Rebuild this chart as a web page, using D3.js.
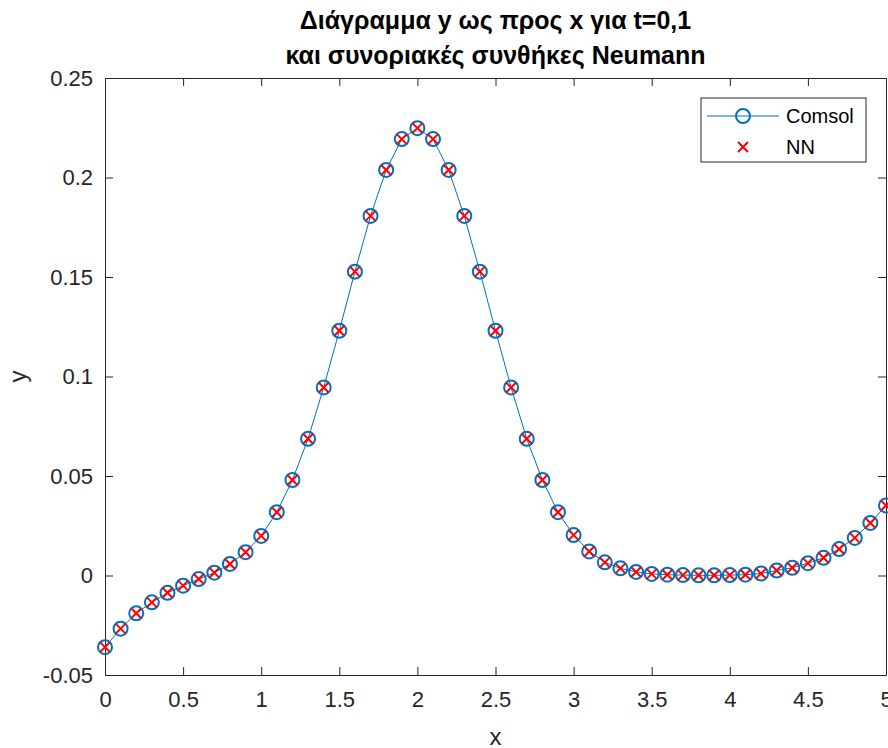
<!DOCTYPE html>
<html>
<head>
<meta charset="utf-8">
<script src="https://cdn.jsdelivr.net/npm/d3@7"></script>
<style>
  body { margin: 0; background: #fff; }
  svg { display: block; font-family: "Liberation Sans", Arial, sans-serif; }
</style>
</head>
<body>
<svg id="chart"></svg>
<script>
// x positions, 0 to 5 step 0.1
var xValues = [0, 0.1, 0.2, 0.3, 0.4, 0.5, 0.6, 0.7, 0.8, 0.9,
  1, 1.1, 1.2, 1.3, 1.4, 1.5, 1.6, 1.7, 1.8, 1.9,
  2, 2.1, 2.2, 2.3, 2.4, 2.5, 2.6, 2.7, 2.8, 2.9,
  3, 3.1, 3.2, 3.3, 3.4, 3.5, 3.6, 3.7, 3.8, 3.9,
  4, 4.1, 4.2, 4.3, 4.4, 4.5, 4.6, 4.7, 4.8, 4.9, 5];

// Comsol solution
var comsolY = [-0.036, -0.0267, -0.019, -0.0135, -0.0087, -0.0051, -0.0018, 0.0014, 0.0058, 0.0117,
  0.0199, 0.0318, 0.048, 0.0687, 0.0945, 0.123, 0.1527, 0.1807, 0.2038, 0.2193,
  0.2248, 0.2193, 0.2038, 0.1807, 0.1527, 0.123, 0.0945, 0.0687, 0.048, 0.0318,
  0.0203, 0.0121, 0.0066, 0.0036, 0.0018, 0.0008, 0.0004, 0.0002, 0.0001, 0.0001,
  0.0002, 0.0004, 0.001, 0.0025, 0.0039, 0.0062, 0.0089, 0.0133, 0.0189, 0.0264, 0.0352];

// NN prediction (overlaps Comsol)
var nnY = [-0.036, -0.0267, -0.019, -0.0135, -0.0087, -0.0051, -0.0018, 0.0014, 0.0058, 0.0117,
  0.0199, 0.0318, 0.048, 0.0687, 0.0945, 0.123, 0.1527, 0.1807, 0.2038, 0.2193,
  0.2248, 0.2193, 0.2038, 0.1807, 0.1527, 0.123, 0.0945, 0.0687, 0.048, 0.0318,
  0.0203, 0.0121, 0.0066, 0.0036, 0.0018, 0.0008, 0.0004, 0.0002, 0.0001, 0.0001,
  0.0002, 0.0004, 0.001, 0.0025, 0.0039, 0.0062, 0.0089, 0.0133, 0.0189, 0.0264, 0.0352];

var xTicks = [0, 0.5, 1, 1.5, 2, 2.5, 3, 3.5, 4, 4.5, 5];
var yTicks = [-0.05, 0, 0.05, 0.1, 0.15, 0.2, 0.25];
var titleLines = ['Διάγραμμα y ως προς x για t=0,1', 'και συνοριακές συνθήκες Neumann'];
var seriesNames = ['Comsol', 'NN'];

var width = 888;
var height = 748;
// plot box (named so they don't clash with window.top)
var plotLeft = 105, plotRight = 886, plotTop = 78, plotBottom = 675;
var blue = '#0072BD';
var axisColor = '#262626';

var svg = d3.select('#chart')
  .attr('width', width)
  .attr('height', height);

var x = d3.scaleLinear().domain([0, 5]).range([plotLeft, plotRight]);
var y = d3.scaleLinear().domain([-0.05, 0.25]).range([plotBottom, plotTop]);

var fmt = function (d) { return String(d); };

// axes, ticks pointing inward like matlab
var xAxis = svg.append('g')
  .attr('transform', 'translate(0,' + plotBottom + ')')
  .call(d3.axisBottom(x).tickValues(xTicks).tickFormat(fmt).tickSizeInner(-8).tickSizeOuter(0).tickPadding(16));
var xTop = svg.append('g')
  .attr('transform', 'translate(0,' + plotTop + ')')
  .call(d3.axisTop(x).tickValues(xTicks).tickFormat('').tickSizeInner(-8).tickSizeOuter(0));
var yAxis = svg.append('g')
  .attr('transform', 'translate(' + plotLeft + ',0)')
  .call(d3.axisLeft(y).tickValues(yTicks).tickFormat(fmt).tickSizeInner(-8).tickSizeOuter(0).tickPadding(12));
var yRight = svg.append('g')
  .attr('transform', 'translate(' + plotRight + ',0)')
  .call(d3.axisRight(y).tickValues(yTicks).tickFormat('').tickSizeInner(-8).tickSizeOuter(0));

[xAxis, xTop, yAxis, yRight].forEach(function (g) {
  g.select('.domain').attr('stroke', axisColor).attr('stroke-width', 1);
  g.selectAll('.tick line').attr('stroke', axisColor);
  g.selectAll('.tick text').attr('fill', axisColor).style('font-size', '22px')
    .style('font-family', '"Liberation Sans", Arial, sans-serif');
});
xAxis.selectAll('.tick text').attr('dy', '0.71em');

// axis labels
svg.append('text')
  .attr('x', (plotLeft + plotRight) / 2)
  .attr('y', 745)
  .attr('text-anchor', 'middle')
  .attr('fill', axisColor)
  .style('font-size', '24px')
  .text('x');

svg.append('text')
  .attr('transform', 'translate(26,' + ((plotTop + plotBottom) / 2) + ') rotate(-90)')
  .attr('text-anchor', 'middle')
  .attr('fill', axisColor)
  .style('font-size', '24px')
  .text('y');

// title
svg.selectAll('.title')
  .data(titleLines)
  .enter()
  .append('text')
  .attr('class', 'title')
  .attr('x', (plotLeft + plotRight) / 2)
  .attr('y', function (d, i) { return 29 + i * 35; })
  .attr('text-anchor', 'middle')
  .attr('fill', '#000')
  .style('font-size', '25px')
  .style('font-weight', 'bold')
  .text(function (d) { return d; });

// Comsol line + circles
var comsolData = xValues.map(function (v, i) { return {x: v, y: comsolY[i]}; });
var nnData = xValues.map(function (v, i) { return {x: v, y: nnY[i]}; });

var line = d3.line()
  .x(function (d) { return x(d.x); })
  .y(function (d) { return y(d.y); });

svg.append('path')
  .datum(comsolData)
  .attr('d', line)
  .attr('fill', 'none')
  .attr('stroke', blue)
  .attr('stroke-width', 1);

svg.selectAll('.comsol')
  .data(comsolData)
  .enter()
  .append('circle')
  .attr('class', 'comsol')
  .attr('cx', function (d) { return x(d.x); })
  .attr('cy', function (d) { return y(d.y); })
  .attr('r', 7)
  .attr('fill', 'none')
  .attr('stroke', blue)
  .attr('stroke-width', 2);

// NN crosses
var crossPath = function (cx, cy, s) {
  return 'M' + (cx - s) + ',' + (cy - s) + 'L' + (cx + s) + ',' + (cy + s) +
    'M' + (cx - s) + ',' + (cy + s) + 'L' + (cx + s) + ',' + (cy - s);
};

svg.selectAll('.nn')
  .data(nnData)
  .enter()
  .append('path')
  .attr('class', 'nn')
  .attr('d', function (d) { return crossPath(x(d.x), y(d.y), 5); })
  .attr('stroke', '#FF0000')
  .attr('stroke-width', 2)
  .attr('fill', 'none');

// legend
var legend = svg.append('g');
legend.append('rect')
  .attr('x', 701).attr('y', 98)
  .attr('width', 165).attr('height', 64)
  .attr('fill', '#fff')
  .attr('stroke', axisColor)
  .attr('stroke-width', 1);

legend.append('line')
  .attr('x1', 707).attr('x2', 779)
  .attr('y1', 116).attr('y2', 116)
  .attr('stroke', blue).attr('stroke-width', 1);
legend.append('circle')
  .attr('cx', 743).attr('cy', 116).attr('r', 7)
  .attr('fill', 'none').attr('stroke', blue).attr('stroke-width', 2);
legend.append('path')
  .attr('d', crossPath(743, 147, 5))
  .attr('stroke', '#FF0000').attr('stroke-width', 2);

legend.selectAll('.legtext')
  .data(seriesNames)
  .enter()
  .append('text')
  .attr('x', 786)
  .attr('y', function (d, i) { return 123 + i * 31; })
  .attr('fill', '#000')
  .style('font-size', '20px')
  .text(function (d) { return d; });
</script>
</body>
</html>
